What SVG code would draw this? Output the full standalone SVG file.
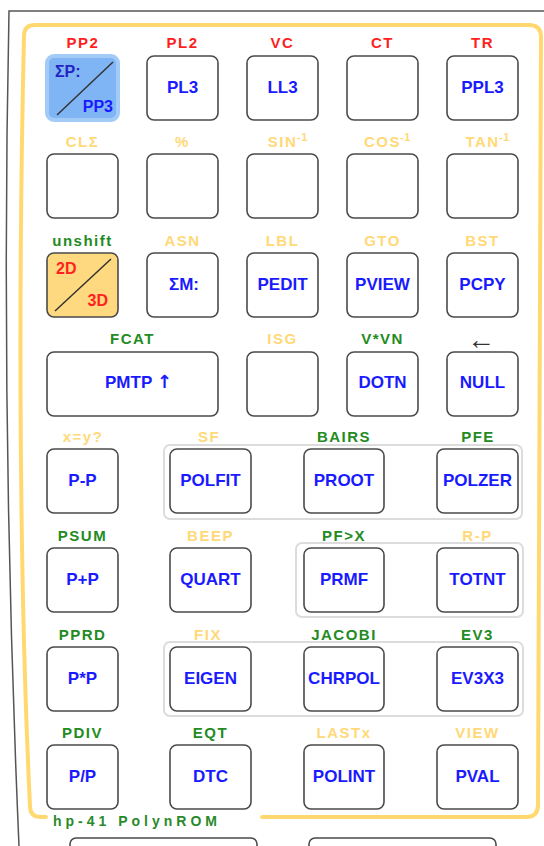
<svg xmlns="http://www.w3.org/2000/svg" width="544" height="846" viewBox="0 0 544 846">
<style>
text{font-family:"Liberation Sans",Arial,sans-serif;font-weight:bold}
.k{fill:#fff;stroke:#4a4a4a;stroke-width:1.6}
.kt{font-size:17px;fill:#1a1aff;text-anchor:middle}
.lb{font-size:15px;letter-spacing:1.5px;text-anchor:middle}
.r{fill:#ff1f1f}
.y{fill:#ffd978}
.g{fill:#228b22}
.sup{font-size:11px;letter-spacing:0.5px}
.grp{fill:none;stroke:#dcdcdc;stroke-width:2}
.frame{fill:none;stroke:#555;stroke-width:1.5}
.yel{fill:none;stroke:#ffd970;stroke-width:4;stroke-linecap:round;stroke-linejoin:round}
</style>
<rect width="544" height="846" fill="#fff"/>
<g id="frame">
<path class="frame" d="M544,11 L9,11 C5,200 4,500 19,846"/>
<path class="yel" d="M262,817 L526,817 Q538,817 538,805 L541,37 Q541,25 529,25 L35,25 Q24,25 24,36 C19,250 18,560 30,806 Q30,817 41,817 L46,817"/>
<text x="53" y="826" font-size="14" letter-spacing="4" fill="#2a8a2a">hp-41 PolynROM</text>
</g>
<g id="groups">
<rect class="grp" x="164" y="445" width="358" height="74" rx="6"/>
<rect class="grp" x="296" y="543" width="227" height="74" rx="6"/>
<rect class="grp" x="164" y="642" width="359" height="74" rx="6"/>
</g>
<g id="connectors"></g>
<!-- Row 1 -->
<g id="key-PP3">
<text class="lb r" x="83" y="48">PP2</text>
<rect x="47" y="56" width="71" height="64" rx="7" fill="#7fb5f5" stroke="#a3cbf8" stroke-width="4"/>
<line x1="57" y1="115" x2="113" y2="62" stroke="#333" stroke-width="1.5"/>
<text x="55" y="77" font-size="16" fill="#2323c0">ΣP:</text>
<text x="113" y="112" font-size="16" fill="#1a1aff" text-anchor="end">PP3</text>
</g>
<g id="key-PL3"><text class="lb r" x="182.5" y="48">PL2</text><rect class="k" x="147" y="56" width="71" height="64" rx="7"/><text class="kt" x="182.5" y="93">PL3</text></g>
<g id="key-LL3"><text class="lb r" x="282.5" y="48">VC</text><rect class="k" x="247" y="56" width="71" height="64" rx="7"/><text class="kt" x="282.5" y="93">LL3</text></g>
<g id="key-CT"><text class="lb r" x="382.5" y="48">CT</text><rect class="k" x="347" y="56" width="71" height="64" rx="7"/></g>
<g id="key-PPL3"><text class="lb r" x="482.5" y="48">TR</text><rect class="k" x="447" y="56" width="71" height="64" rx="7"/><text class="kt" x="482.5" y="93">PPL3</text></g>
<!-- Row 2 -->
<g id="key-CLS"><text class="lb y" x="82.5" y="147">CLΣ</text><rect class="k" x="47" y="154" width="71" height="64" rx="7"/></g>
<g id="key-PCT"><text class="lb y" x="182.5" y="147">%</text><rect class="k" x="147" y="154" width="71" height="64" rx="7"/></g>
<g id="key-ASIN"><text class="lb y" x="282.5" y="147">SIN</text><text class="sup y" x="297" y="141">-1</text><rect class="k" x="247" y="154" width="71" height="64" rx="7"/></g>
<g id="key-ACOS"><text class="lb y" x="382.5" y="147">COS</text><text class="sup y" x="400" y="141">-1</text><rect class="k" x="347" y="154" width="71" height="64" rx="7"/></g>
<g id="key-ATAN"><text class="lb y" x="482.5" y="147">TAN</text><text class="sup y" x="499" y="141">-1</text><rect class="k" x="447" y="154" width="71" height="64" rx="7"/></g>
<!-- Row 3 -->
<g id="key-2D3D">
<text class="lb g" x="82.5" y="246">unshift</text>
<rect x="47" y="253" width="71" height="64" rx="7" fill="#ffd97f" stroke="#4a4a4a" stroke-width="1.6"/>
<line x1="55" y1="311" x2="111" y2="259" stroke="#333" stroke-width="1.5"/>
<text x="56" y="274" font-size="16" fill="#ff1f1f">2D</text>
<text x="108" y="306" font-size="16" fill="#ff1f1f" text-anchor="end">3D</text>
</g>
<g id="key-SM"><text class="lb y" x="182.5" y="246">ASN</text><rect class="k" x="147" y="253" width="71" height="64" rx="7"/><text class="kt" x="184" y="290">ΣM:</text></g>
<g id="key-PEDIT"><text class="lb y" x="282.5" y="246">LBL</text><rect class="k" x="247" y="253" width="71" height="64" rx="7"/><text class="kt" x="282.5" y="290">PEDIT</text></g>
<g id="key-PVIEW"><text class="lb y" x="382.5" y="246">GTO</text><rect class="k" x="347" y="253" width="71" height="64" rx="7"/><text class="kt" x="382.5" y="290">PVIEW</text></g>
<g id="key-PCPY"><text class="lb y" x="482.5" y="246">BST</text><rect class="k" x="447" y="253" width="71" height="64" rx="7"/><text class="kt" x="482.5" y="290">PCPY</text></g>
<!-- Row 4 -->
<g id="key-PMTP"><text class="lb g" x="132.5" y="344">FCAT</text><rect class="k" x="47" y="352" width="171" height="64" rx="7"/><text x="105" y="388" font-size="17" fill="#1a1aff">PMTP <tspan font-family="DejaVu Sans" font-size="18">↑</tspan></text></g>
<g id="key-ISG"><text class="lb y" x="282.5" y="344">ISG</text><rect class="k" x="247" y="352" width="71" height="64" rx="7"/></g>
<g id="key-DOTN"><text class="lb g" x="382.5" y="344">V*VN</text><rect class="k" x="347" y="352" width="71" height="64" rx="7"/><text class="kt" x="382.5" y="388">DOTN</text></g>
<g id="key-NULL"><text x="481" y="349" font-family="DejaVu Sans" font-weight="normal" font-size="28" fill="#333" text-anchor="middle">←</text><rect class="k" x="447" y="352" width="71" height="64" rx="7"/><text class="kt" x="482.5" y="388">NULL</text></g>
<!-- Row 5 -->
<g id="key-P-P"><text class="lb y" x="83" y="442">x=y?</text><rect class="k" x="47" y="449" width="71" height="64" rx="7"/><text class="kt" x="82.5" y="486">P-P</text></g>
<g id="key-POLFIT"><text class="lb y" x="209" y="442">SF</text><rect class="k" x="170" y="449" width="81" height="64" rx="7"/><text class="kt" x="210.5" y="486">POLFIT</text></g>
<g id="key-PROOT"><text class="lb g" x="344" y="442">BAIRS</text><rect class="k" x="304" y="449" width="80" height="64" rx="7"/><text class="kt" x="344" y="486">PROOT</text></g>
<g id="key-POLZER"><text class="lb g" x="478" y="442">PFE</text><rect class="k" x="437" y="449" width="81" height="64" rx="7"/><text class="kt" x="477.5" y="486">POLZER</text></g>
<!-- Row 6 -->
<g id="key-PplusP"><text class="lb g" x="82.5" y="541">PSUM</text><rect class="k" x="47" y="548" width="71" height="64" rx="7"/><text class="kt" x="82.5" y="585">P+P</text></g>
<g id="key-QUART"><text class="lb y" x="210.5" y="541">BEEP</text><rect class="k" x="170" y="548" width="81" height="64" rx="7"/><text class="kt" x="210.5" y="585">QUART</text></g>
<g id="key-PRMF"><text class="lb g" x="344" y="541">PF&gt;X</text><rect class="k" x="304" y="548" width="80" height="64" rx="7"/><text class="kt" x="344" y="585">PRMF</text></g>
<g id="key-TOTNT"><text class="lb y" x="477.5" y="541">R-P</text><rect class="k" x="437" y="548" width="81" height="64" rx="7"/><text class="kt" x="477.5" y="585">TOTNT</text></g>
<!-- Row 7 -->
<g id="key-PxP"><text class="lb g" x="82.5" y="640">PPRD</text><rect class="k" x="47" y="647" width="71" height="64" rx="7"/><text class="kt" x="82.5" y="684">P*P</text></g>
<g id="key-EIGEN"><text class="lb y" x="208" y="640">FIX</text><rect class="k" x="170" y="647" width="81" height="64" rx="7"/><text class="kt" x="210.5" y="684">EIGEN</text></g>
<g id="key-CHRPOL"><text class="lb g" x="344" y="640">JACOBI</text><rect class="k" x="304" y="647" width="80" height="64" rx="7"/><text class="kt" x="344" y="684">CHRPOL</text></g>
<g id="key-EV3X3"><text class="lb g" x="477.5" y="640">EV3</text><rect class="k" x="437" y="647" width="81" height="64" rx="7"/><text class="kt" x="477.5" y="684">EV3X3</text></g>
<!-- Row 8 -->
<g id="key-PdivP"><text class="lb g" x="82.5" y="738">PDIV</text><rect class="k" x="47" y="745" width="71" height="64" rx="7"/><text class="kt" x="82.5" y="782">P/P</text></g>
<g id="key-DTC"><text class="lb g" x="210.5" y="738">EQT</text><rect class="k" x="170" y="745" width="81" height="64" rx="7"/><text class="kt" x="210.5" y="782">DTC</text></g>
<g id="key-POLINT"><text class="lb y" x="344" y="738">LASTx</text><rect class="k" x="304" y="745" width="80" height="64" rx="7"/><text class="kt" x="344" y="782">POLINT</text></g>
<g id="key-PVAL"><text class="lb y" x="477.5" y="738">VIEW</text><rect class="k" x="437" y="745" width="81" height="64" rx="7"/><text class="kt" x="477.5" y="782">PVAL</text></g>
<!-- partial next row -->
<g id="key-bottom-1"><rect class="k" x="70" y="838" width="187" height="30" rx="6"/></g>
<g id="key-bottom-2"><rect class="k" x="309" y="838" width="187" height="30" rx="6"/></g>
</svg>
